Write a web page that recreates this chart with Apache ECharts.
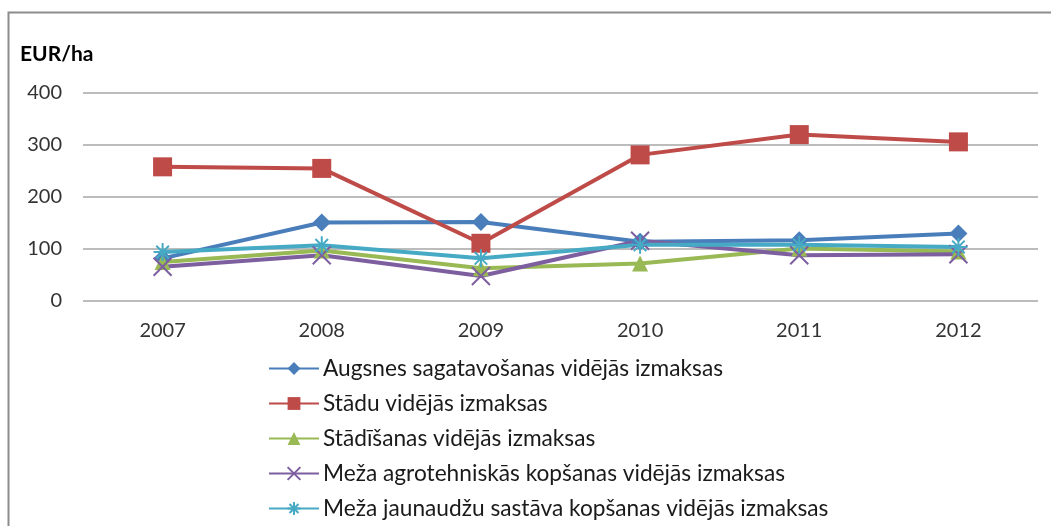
<!DOCTYPE html>
<html>
<head>
<meta charset="utf-8">
<script src="https://cdn.jsdelivr.net/npm/echarts@6/dist/echarts.min.js"></script>
<style>
  html, body { margin: 0; padding: 0; background: #fff; }
  #chart { width: 1051px; height: 526px; }
</style>
</head>
<body>
<div id="chart"></div>
<script>
const years = ['2007', '2008', '2009', '2010', '2011', '2012'];
const yTicks = [0, 100, 200, 300, 400];

const seriesNames = [
    'Augsnes sagatavošanas vidējās izmaksas',
    'Stādu vidējās izmaksas',
    'Stādīšanas vidējās izmaksas',
    'Meža agrotehniskās kopšanas vidējās izmaksas',
    'Meža jaunaudžu sastāva kopšanas vidējās izmaksas'
];
const augsnes = [82, 151, 152, 114, 117, 130];
const stadu = [258, 255, 111, 281, 320, 306];
const stadisanas = [75, 97, 63, 72, 101, 95];
const agrotehniskas = [66, 88, 48, 116, 88, 90];
const jaunaudzu = [94, 107, 82, 108, 108, 104];

const colors = ['#4a7ebb', '#be4b48', '#98b954', '#7d5fa0', '#46aac5'];

const asterisk = 'path://M0,-10L0,10M-10,0L10,0M-7,-7L7,7M-7,7L7,-7';
const cross = 'path://M-8,-8L8,8M-8,8L8,-8';

const chart = echarts.init(document.getElementById('chart'));

function lineSeries(name, data, color, symbol, size, extra) {
    return Object.assign({
        name: name,
        type: 'line',
        data: data,
        symbol: symbol,
        symbolSize: size,
        lineStyle: { color: color, width: 4 },
        itemStyle: { color: color },
        emphasis: { disabled: true },
        animation: false
    }, extra || {});
}

chart.setOption({
    animation: false,
    color: colors,
    textStyle: { fontFamily: 'Lato, sans-serif' },
    graphic: [
        {
            type: 'rect',
            shape: { x: 8.5, y: 12.5, width: 1200, height: 700 },
            style: { fill: 'none', stroke: '#8c8c8c', lineWidth: 2 },
            silent: true
        },
        {
            type: 'text',
            left: 20,
            top: 44,
            style: { text: 'EUR/ha', font: 'bold 21px Lato, sans-serif', fill: '#000' }
        }
    ],
    grid: {
        left: 83,
        right: 13,
        top: 93,
        height: 208,
        containLabel: false
    },
    legend: {
        orient: 'vertical',
        left: 263,
        top: 352,
        itemWidth: 50,
        itemHeight: 16,
        itemGap: 12,
        textStyle: { fontSize: 22.7, lineHeight: 22, color: '#1a1a1a', fontFamily: 'Lato, sans-serif', padding: [0, 0, 0, -1] },
        data: seriesNames
    },
    xAxis: {
        type: 'category',
        data: years,
        boundaryGap: true,
        axisLine: { show: false },
        axisTick: { show: false },
        axisLabel: { fontSize: 20, color: '#333', margin: 20 }
    },
    yAxis: {
        type: 'value',
        min: yTicks[0],
        max: yTicks[yTicks.length - 1],
        interval: 100,
        axisLine: { show: false },
        axisTick: { show: false },
        axisLabel: { fontSize: 20, color: '#333', margin: 21 },
        splitLine: { lineStyle: { color: '#a6a6a6', width: 1.5 } }
    },
    series: [
        lineSeries(seriesNames[0], augsnes, colors[0], 'diamond', 18),
        lineSeries(seriesNames[1], stadu, colors[1], 'rect', 19),
        lineSeries(seriesNames[2], stadisanas, colors[2], 'triangle', 16),
        lineSeries(seriesNames[3], agrotehniskas, colors[3], cross, 18, { itemStyle: { color: 'none', borderColor: colors[3], borderWidth: 2 } }),
        lineSeries(seriesNames[4], jaunaudzu, colors[4], asterisk, 18, { itemStyle: { color: 'none', borderColor: colors[4], borderWidth: 2 } })
    ]
});
</script>
</body>
</html>
